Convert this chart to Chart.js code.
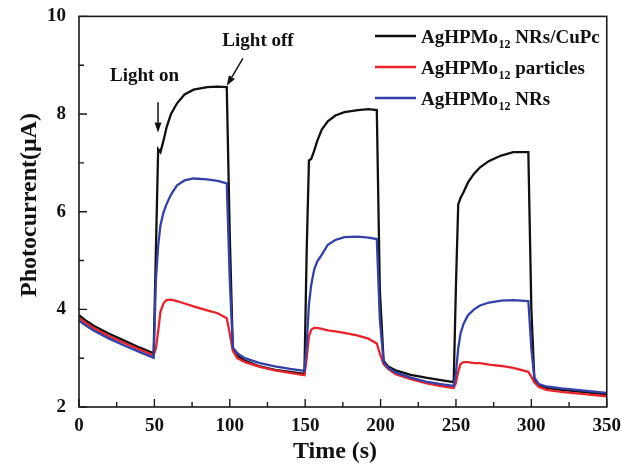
<!DOCTYPE html>
<html>
<head>
<meta charset="utf-8">
<script src="https://cdn.jsdelivr.net/npm/chart.js@4.4.1/dist/chart.umd.min.js"></script>
<style>
  html, body { margin: 0; padding: 0; background: #fff; }
</style>
</head>
<body>
<canvas id="photoChart" width="621" height="468"></canvas>
<script>
// time axis (s), shared by the three curves
const times = [
  0, 5, 10, 20, 30, 40, 49.5,
  51, 52.5, 54, 56, 58, 61, 65, 70, 76, 85, 92, 98,
  100, 102, 105, 110, 120, 130, 140, 149.5,
  151, 152.5, 154, 156, 158, 161, 165, 170, 176, 185, 192, 197.5,
  199.5, 202, 205, 210, 220, 230, 240, 248.5,
  250, 251.5, 253, 255, 258, 262, 266, 272, 280, 288, 298,
  300, 302, 305, 310, 320, 330, 340, 350
];

// photocurrent (uA)
const cupcValues = [
  3.88, 3.76, 3.66, 3.50, 3.36, 3.22, 3.10,
  5.20, 7.28, 7.22, 7.45, 7.72, 8.00, 8.22, 8.40, 8.50, 8.55, 8.56, 8.55,
  5.50, 3.20, 3.05, 2.95, 2.83, 2.76, 2.72, 2.68,
  5.20, 7.05, 7.08, 7.25, 7.45, 7.68, 7.85, 7.97, 8.04, 8.08, 8.10, 8.08,
  4.40, 2.95, 2.83, 2.75, 2.66, 2.60, 2.55, 2.51,
  4.50, 6.15, 6.28, 6.40, 6.60, 6.78, 6.91, 7.04, 7.15, 7.22, 7.22,
  4.00, 2.56, 2.45, 2.39, 2.35, 2.32, 2.29, 2.26
];
const particleValues = [
  3.82, 3.71, 3.61, 3.45, 3.31, 3.18, 3.06,
  3.20, 3.55, 3.95, 4.12, 4.19, 4.20, 4.17, 4.12, 4.06, 3.98, 3.92, 3.82,
  3.50, 3.15, 3.00, 2.92, 2.82, 2.75, 2.70, 2.65,
  3.00, 3.45, 3.58, 3.62, 3.62, 3.60, 3.57, 3.55, 3.52, 3.46, 3.40, 3.30,
  3.10, 2.88, 2.78, 2.67, 2.57, 2.49, 2.43, 2.39,
  2.50, 2.72, 2.88, 2.92, 2.92, 2.90, 2.90, 2.87, 2.84, 2.80, 2.72,
  2.62, 2.50, 2.41, 2.35, 2.31, 2.28, 2.25, 2.22
];
const nrValues = [
  3.77, 3.66, 3.56, 3.40, 3.26, 3.13, 3.01,
  4.60, 5.30, 5.72, 5.98, 6.15, 6.35, 6.54, 6.64, 6.68, 6.66, 6.63, 6.58,
  4.60, 3.22, 3.10, 3.00, 2.90, 2.83, 2.78, 2.74,
  3.30, 4.10, 4.50, 4.82, 4.98, 5.12, 5.32, 5.42, 5.48, 5.49, 5.47, 5.44,
  3.80, 2.92, 2.80, 2.71, 2.60, 2.52, 2.47, 2.43,
  2.70, 3.20, 3.50, 3.70, 3.88, 4.00, 4.08, 4.14, 4.18, 4.19, 4.17,
  3.20, 2.60, 2.47, 2.42, 2.38, 2.35, 2.32, 2.29
];

const seriesSuffix = ['NRs/CuPc', 'particles', 'NRs'];
const xMajor = [0, 50, 100, 150, 200, 250, 300, 350];
const xMinor = [25, 75, 125, 175, 225, 275, 325];
const yMajor = [2, 4, 6, 8, 10];
const yMinor = [3, 5, 7, 9];

const FONT = "'Liberation Serif', 'Times New Roman', serif";
const colors = ['#111111', '#e8232b', '#3340a8'];

const toPoints = vals => times.map((t, i) => ({ x: t, y: vals[i] }));

// annotations in data units
const notes = [
  { text: 'Light on', x: 43.5, y: 8.77 },
  { text: 'Light off', x: 118.7, y: 9.49 }
];
const arrows = [
  { x1: 52.4, y1: 8.24, x2: 52.4, y2: 7.62 },
  { x1: 108.7, y1: 9.14, x2: 98.0, y2: 8.58 }
];

const decorPlugin = {
  id: 'decor',
  afterDatasetsDraw(chart) {
    const { ctx, chartArea: a, scales: { x, y } } = chart;
    ctx.save();

    // frame
    ctx.strokeStyle = '#1a1a1a';
    ctx.lineWidth = 1.6;
    ctx.strokeRect(a.left, a.top, a.right - a.left, a.bottom - a.top);

    // inward ticks
    ctx.lineWidth = 1.4;
    ctx.beginPath();
    xMajor.forEach(v => { const px = x.getPixelForValue(v); ctx.moveTo(px, a.bottom); ctx.lineTo(px, a.bottom - 8); });
    xMinor.forEach(v => { const px = x.getPixelForValue(v); ctx.moveTo(px, a.bottom); ctx.lineTo(px, a.bottom - 5); });
    yMajor.forEach(v => { const py = y.getPixelForValue(v); ctx.moveTo(a.left, py); ctx.lineTo(a.left + 8, py); });
    yMinor.forEach(v => { const py = y.getPixelForValue(v); ctx.moveTo(a.left, py); ctx.lineTo(a.left + 5, py); });
    ctx.stroke();

    // light on / off labels and arrows
    ctx.fillStyle = '#111';
    ctx.font = 'bold 19px ' + FONT;
    ctx.textAlign = 'center';
    ctx.textBaseline = 'middle';
    notes.forEach(n => ctx.fillText(n.text, x.getPixelForValue(n.x), y.getPixelForValue(n.y)));

    ctx.strokeStyle = '#111';
    ctx.lineWidth = 1.5;
    arrows.forEach(ar => {
      const x1 = x.getPixelForValue(ar.x1), y1 = y.getPixelForValue(ar.y1);
      const x2 = x.getPixelForValue(ar.x2), y2 = y.getPixelForValue(ar.y2);
      const ang = Math.atan2(y2 - y1, x2 - x1);
      const hl = 10, hw = 3.5;
      const bx = x2 - hl * Math.cos(ang), by = y2 - hl * Math.sin(ang);
      ctx.beginPath();
      ctx.moveTo(x1, y1);
      ctx.lineTo(bx, by);
      ctx.stroke();
      ctx.beginPath();
      ctx.moveTo(x2, y2);
      ctx.lineTo(bx + hw * Math.sin(ang), by - hw * Math.cos(ang));
      ctx.lineTo(bx - hw * Math.sin(ang), by + hw * Math.cos(ang));
      ctx.closePath();
      ctx.fill();
    });

    // legend with subscript 12
    const rows = [36, 67, 98];
    ctx.textAlign = 'left';
    ctx.textBaseline = 'alphabetic';
    chart.data.datasets.forEach((ds, i) => {
      const ry = rows[i];
      ctx.strokeStyle = ds.borderColor;
      ctx.lineWidth = 2.5;
      ctx.beginPath();
      ctx.moveTo(375, ry);
      ctx.lineTo(416, ry);
      ctx.stroke();
      ctx.fillStyle = '#111';
      let tx = 421;
      ctx.font = 'bold 19px ' + FONT;
      ctx.fillText('AgHPMo', tx, ry + 7);
      tx += ctx.measureText('AgHPMo').width;
      ctx.font = 'bold 12px ' + FONT;
      ctx.fillText('12', tx + 0.5, ry + 12);
      tx += ctx.measureText('12').width + 0.5;
      ctx.font = 'bold 19px ' + FONT;
      ctx.fillText(' ' + seriesSuffix[i], tx, ry + 7);
    });

    // axis titles
    ctx.fillStyle = '#111';
    ctx.font = 'bold 24px ' + FONT;
    ctx.textAlign = 'center';
    ctx.textBaseline = 'middle';
    ctx.fillText('Time (s)', 335, 452);
    ctx.translate(30, 205);
    ctx.rotate(-Math.PI / 2);
    ctx.fillText('Photocurrent(\u03bcA)', 0, 0);
    ctx.restore();
  }
};

new Chart(document.getElementById('photoChart').getContext('2d'), {
  type: 'line',
  data: {
    datasets: [
      { label: 'AgHPMo\u2081\u2082 NRs/CuPc', data: toPoints(cupcValues), borderColor: colors[0], order: 3 },
      { label: 'AgHPMo\u2081\u2082 particles', data: toPoints(particleValues), borderColor: colors[1], order: 2 },
      { label: 'AgHPMo\u2081\u2082 NRs', data: toPoints(nrValues), borderColor: colors[2], order: 1 }
    ]
  },
  options: {
    responsive: false,
    animation: false,
    elements: {
      line: { borderWidth: 2.3, tension: 0, fill: false },
      point: { radius: 0 }
    },
    layout: { padding: { top: 16, right: 14, left: 0, bottom: 0 } },
    plugins: { legend: { display: false }, tooltip: { enabled: false } },
    scales: {
      x: {
        type: 'linear', min: 0, max: 350,
        grid: { display: false }, border: { display: false },
        afterFit: s => { s.height = 61; },
        afterBuildTicks: s => { s.ticks = xMajor.map(v => ({ value: v })); },
        ticks: { color: '#111', padding: 0, maxRotation: 0, font: { family: FONT, size: 19, weight: 'bold' } }
      },
      y: {
        min: 2, max: 10,
        grid: { display: false }, border: { display: false },
        afterFit: s => { s.width = 79; },
        afterBuildTicks: s => { s.ticks = yMajor.map(v => ({ value: v })); },
        ticks: { color: '#111', padding: 5, font: { family: FONT, size: 19, weight: 'bold' } }
      }
    }
  },
  plugins: [decorPlugin]
});
</script>
</body>
</html>
